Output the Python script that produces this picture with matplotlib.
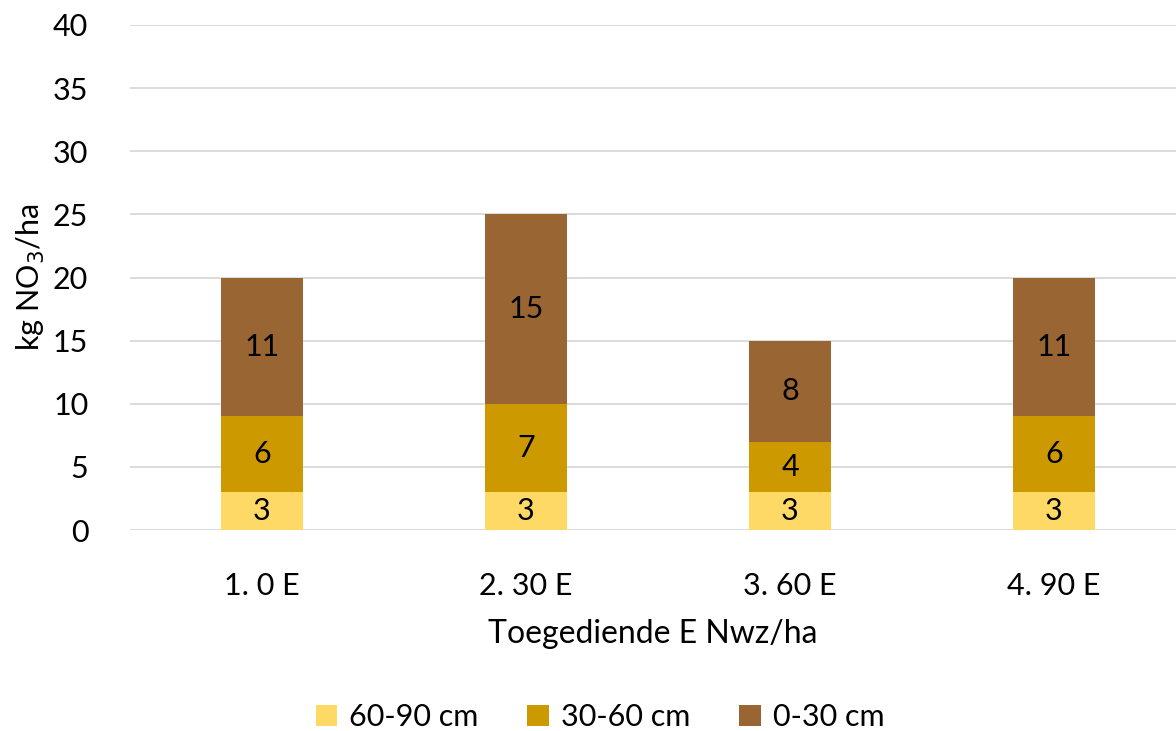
import matplotlib.pyplot as plt
import numpy as np

plt.rcParams["font.family"] = ["Lato", "DejaVu Sans"]

categories = ["1. 0 E", "2. 30 E", "3. 60 E", "4. 90 E"]
layers = ["60-90 cm", "30-60 cm", "0-30 cm"]
deep = [3, 3, 3, 3]
middle = [6, 7, 4, 6]
top = [11, 15, 8, 11]
colors = ["#FFD966", "#CC9900", "#996633"]

fig = plt.figure(figsize=(11.76, 7.31), dpi=100)
ax = fig.add_axes([130 / 1176, 1 - 530 / 731, 1 - 130 / 1176, 505 / 731])

x = np.arange(len(categories))
bottom = np.zeros(len(categories))
for vals, name, col in zip([deep, middle, top], layers, colors):
    bars = ax.bar(x, vals, width=0.31, bottom=bottom, color=col, label=name, zorder=3)
    ax.bar_label(bars, labels=[str(v) for v in vals], label_type="center",
                 fontsize=22, color="black")
    bottom += np.array(vals)

ax.set_xlim(-0.5, -0.5 + 1046 / 264)
ax.set_ylim(0, 40)
ax.set_yticks(range(0, 41, 5))
ax.set_xticks(x)
ax.set_xticklabels(categories)
ax.tick_params(axis="both", length=0, labelsize=22, colors="black")
ax.tick_params(axis="x", pad=30)
ax.tick_params(axis="y", pad=30)
ax.grid(axis="y", color="#D9D9D9", linewidth=1.3, zorder=0)
for s in ax.spines.values():
    s.set_visible(False)

ax.set_ylabel("kg NO$_3$/ha", fontsize=22, labelpad=4)
ax.set_xlabel("Toegediende E Nwz/ha", fontsize=23, labelpad=14)

fig.legend(loc="center", bbox_to_anchor=(600 / 1176, 1 - 717 / 731), ncol=3,
           frameon=False, fontsize=22, handlelength=0.7, handleheight=0.7,
           handletextpad=0.4, columnspacing=1.6)

fig.savefig("out.png", dpi=100)
